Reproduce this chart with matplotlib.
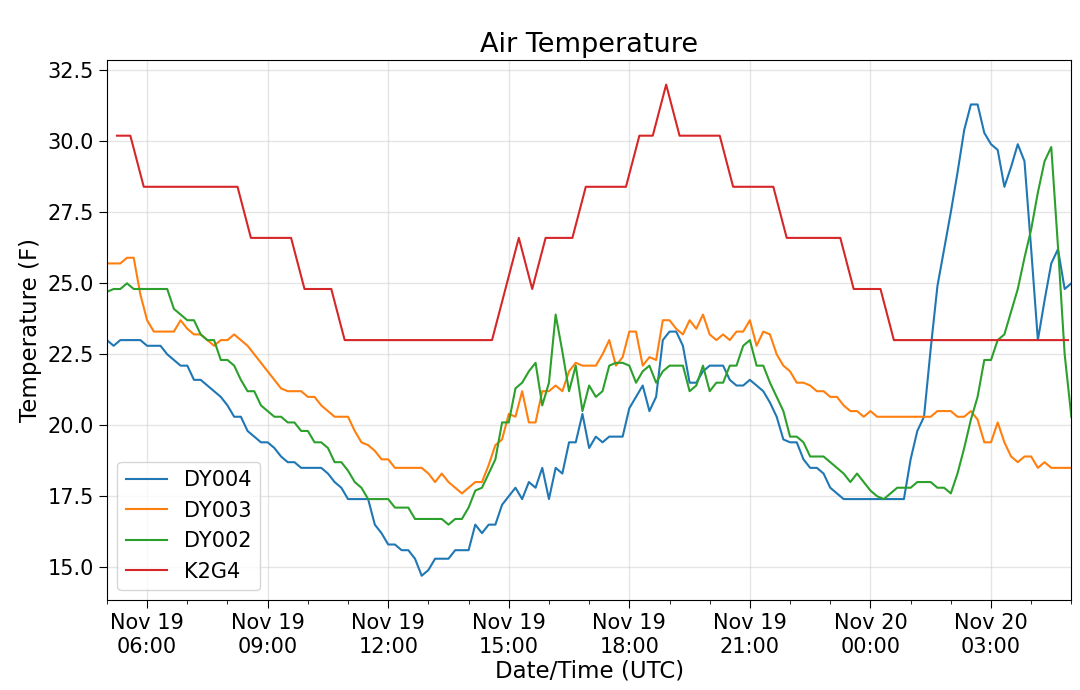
import numpy as np
import pandas as pd
import matplotlib
matplotlib.use("Agg")
import matplotlib.pyplot as plt
import matplotlib.dates as mdates

# DY stations report every 10 min, K2G4 (AWOS) every 20 min at :15/:35/:55
dy_times = pd.date_range("2018-11-19 05:00", periods=145, freq="10min")
k2g4_times = pd.date_range("2018-11-19 05:15", periods=72, freq="20min")

dy004 = [23.0, 22.8, 23.0, 23.0, 23.0, 23.0, 22.8, 22.8, 22.8, 22.5,
         22.3, 22.1, 22.1, 21.6, 21.6, 21.4, 21.2, 21.0, 20.7, 20.3,
         20.3, 19.8, 19.6, 19.4, 19.4, 19.2, 18.9, 18.7, 18.7, 18.5,
         18.5, 18.5, 18.5, 18.3, 18.0, 17.8, 17.4, 17.4, 17.4, 17.4,
         16.5, 16.2, 15.8, 15.8, 15.6, 15.6, 15.3, 14.7, 14.9, 15.3,
         15.3, 15.3, 15.6, 15.6, 15.6, 16.5, 16.2, 16.5, 16.5, 17.2,
         17.5, 17.8, 17.4, 18.0, 17.8, 18.5, 17.4, 18.5, 18.3, 19.4,
         19.4, 20.4, 19.2, 19.6, 19.4, 19.6, 19.6, 19.6, 20.6, 21.0,
         21.4, 20.5, 21.0, 23.0, 23.3, 23.3, 22.8, 21.5, 21.5, 21.9,
         22.1, 22.1, 22.1, 21.6, 21.4, 21.4, 21.6, 21.4, 21.2, 20.8,
         20.3, 19.5, 19.4, 19.4, 18.8, 18.5, 18.5, 18.3, 17.8, 17.6,
         17.4, 17.4, 17.4, 17.4, 17.4, 17.4, 17.4, 17.4, 17.4, 17.4,
         18.8, 19.8, 20.3, 22.7, 24.9, 26.2, 27.5, 28.9, 30.4, 31.3,
         31.3, 30.3, 29.9, 29.7, 28.4, 29.1, 29.9, 29.3, 26.2, 23.0,
         24.4, 25.7, 26.2, 24.8, 25.0]

dy003 = [25.7, 25.7, 25.7, 25.9, 25.9, 24.6, 23.7, 23.3, 23.3, 23.3,
         23.3, 23.7, 23.4, 23.2, 23.2, 23.0, 22.8, 23.0, 23.0, 23.2,
         23.0, 22.8, 22.5, 22.2, 21.9, 21.6, 21.3, 21.2, 21.2, 21.2,
         21.0, 21.0, 20.7, 20.5, 20.3, 20.3, 20.3, 19.8, 19.4, 19.3,
         19.1, 18.8, 18.8, 18.5, 18.5, 18.5, 18.5, 18.5, 18.3, 18.0,
         18.3, 18.0, 17.8, 17.6, 17.8, 18.0, 18.0, 18.6, 19.3, 19.5,
         20.4, 20.3, 21.2, 20.1, 20.1, 21.2, 21.2, 21.4, 21.2, 21.9,
         22.2, 22.1, 22.1, 22.1, 22.5, 23.0, 22.1, 22.4, 23.3, 23.3,
         22.1, 22.4, 22.3, 23.7, 23.7, 23.4, 23.2, 23.7, 23.4, 23.9,
         23.2, 23.0, 23.2, 23.0, 23.3, 23.3, 23.7, 22.8, 23.3, 23.2,
         22.5, 22.1, 21.9, 21.5, 21.5, 21.4, 21.2, 21.2, 21.0, 21.0,
         20.7, 20.5, 20.5, 20.3, 20.5, 20.3, 20.3, 20.3, 20.3, 20.3,
         20.3, 20.3, 20.3, 20.3, 20.5, 20.5, 20.5, 20.3, 20.3, 20.5,
         20.2, 19.4, 19.4, 20.1, 19.4, 18.9, 18.7, 18.9, 18.9, 18.5,
         18.7, 18.5, 18.5, 18.5, 18.5]

dy002 = [24.7, 24.8, 24.8, 25.0, 24.8, 24.8, 24.8, 24.8, 24.8, 24.8,
         24.1, 23.9, 23.7, 23.7, 23.2, 23.0, 23.0, 22.3, 22.3, 22.1,
         21.6, 21.2, 21.2, 20.7, 20.5, 20.3, 20.3, 20.1, 20.1, 19.8,
         19.8, 19.4, 19.4, 19.2, 18.7, 18.7, 18.4, 18.0, 17.8, 17.4,
         17.4, 17.4, 17.4, 17.1, 17.1, 17.1, 16.7, 16.7, 16.7, 16.7,
         16.7, 16.5, 16.7, 16.7, 17.1, 17.7, 17.8, 18.3, 18.8, 20.1,
         20.1, 21.3, 21.5, 21.9, 22.2, 20.7, 21.5, 23.9, 22.6, 21.2,
         22.1, 20.5, 21.4, 21.0, 21.2, 22.1, 22.2, 22.2, 22.1, 21.5,
         21.9, 22.1, 21.5, 21.9, 22.1, 22.1, 22.1, 21.2, 21.4, 22.1,
         21.2, 21.5, 21.5, 22.1, 22.1, 22.8, 23.0, 22.1, 22.1, 21.5,
         21.0, 20.5, 19.6, 19.6, 19.4, 18.9, 18.9, 18.9, 18.7, 18.5,
         18.3, 18.0, 18.3, 18.0, 17.7, 17.5, 17.4, 17.6, 17.8, 17.8,
         17.8, 18.0, 18.0, 18.0, 17.8, 17.8, 17.6, 18.3, 19.2, 20.2,
         21.0, 22.3, 22.3, 23.0, 23.2, 24.0, 24.8, 25.9, 26.9, 28.2,
         29.3, 29.8, 26.3, 22.5, 20.3]

k2g4 = [30.2, 30.2, 28.4, 28.4, 28.4, 28.4, 28.4, 28.4, 28.4, 28.4,
        26.6, 26.6, 26.6, 26.6, 24.8, 24.8, 24.8, 23.0, 23.0, 23.0,
        23.0, 23.0, 23.0, 23.0, 23.0, 23.0, 23.0, 23.0, 23.0, 24.8,
        26.6, 24.8, 26.6, 26.6, 26.6, 28.4, 28.4, 28.4, 28.4, 30.2,
        30.2, 32.0, 30.2, 30.2, 30.2, 30.2, 28.4, 28.4, 28.4, 28.4,
        26.6, 26.6, 26.6, 26.6, 26.6, 24.8, 24.8, 24.8, 23.0, 23.0,
        23.0, 23.0, 23.0, 23.0, 23.0, 23.0, 23.0, 23.0, 23.0, 23.0,
        23.0, 23.0]

fig = plt.figure(figsize=(10.8, 6.9), dpi=100)
ax = fig.add_axes([0.099, 0.130, 0.893, 0.783])

ax.plot(dy_times, dy004, label="DY004")
ax.plot(dy_times, dy003, label="DY003")
ax.plot(dy_times, dy002, label="DY002")
ax.plot(k2g4_times, k2g4, label="K2G4")

ax.set_xlim(dy_times[0], dy_times[-1])
ax.xaxis.set_major_locator(mdates.HourLocator(byhour=range(0, 24, 3)))
ax.xaxis.set_minor_locator(mdates.HourLocator())
ax.xaxis.set_major_formatter(mdates.DateFormatter("%b %d\n%H:%M"))
ax.yaxis.set_major_locator(plt.MultipleLocator(2.5))

ax.tick_params(axis="both", which="major", labelsize=15, length=6)
ax.tick_params(axis="x", which="minor", length=3)
for lab in ax.get_xticklabels():
    lab.set_horizontalalignment("center")

ax.grid(True, color="#cccccc", alpha=0.5, linewidth=1)
ax.set_title("Air Temperature", fontsize=19.5)
ax.set_xlabel("Date/Time (UTC)", fontsize=16.5, labelpad=2)
ax.set_ylabel("Temperature (F)", fontsize=16.5)
ax.legend(loc="lower left", fontsize=15)

fig.savefig("out.png", dpi=100)
